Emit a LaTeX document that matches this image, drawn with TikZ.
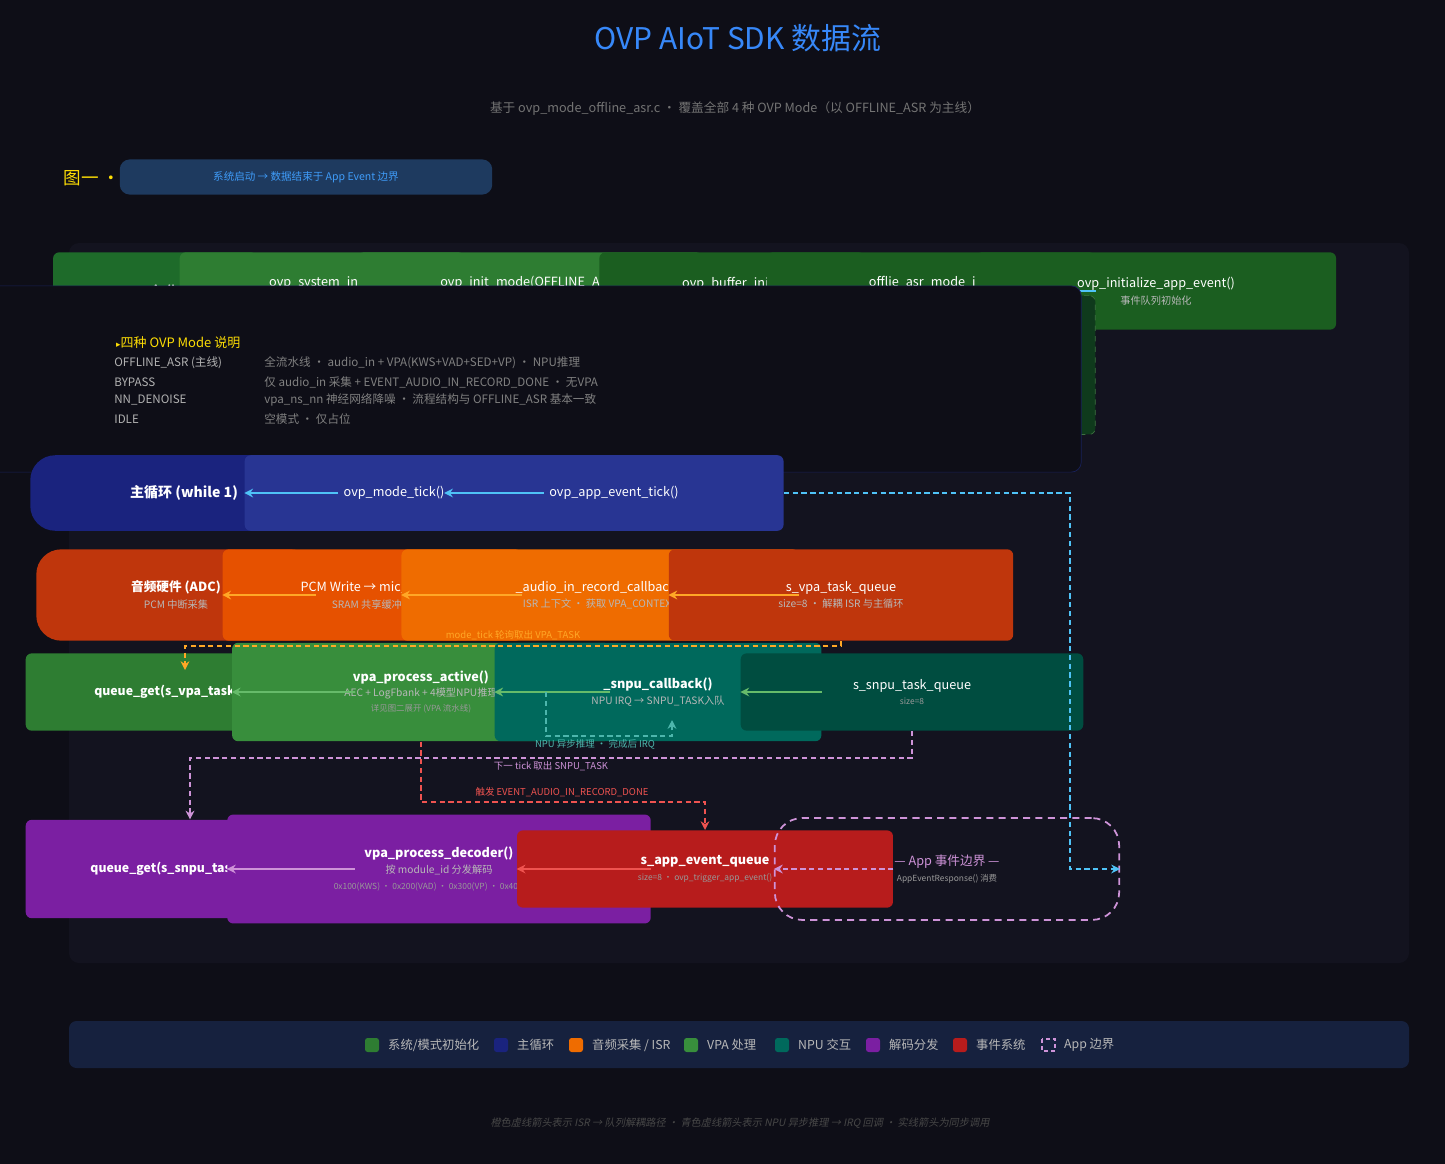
\documentclass[tikz,border=0pt]{standalone}
\usepackage{fontspec}
\setmainfont{Noto Sans CJK SC}
\newfontfamily\symfont{DejaVu Sans}
\newfontfamily\slfont[FakeSlant=0.2]{Noto Sans CJK SC}
\usetikzlibrary{positioning,arrows.meta}

\definecolor{bgc}{HTML}{0E0E17}
\definecolor{panelc}{HTML}{13131F}
\definecolor{gmain}{HTML}{1E6B2A}
\definecolor{gsys}{HTML}{2E7D32}
\definecolor{gdark}{HTML}{1B5E20}
\definecolor{gbox}{HTML}{0F3A1C}
\definecolor{bloop}{HTML}{1A237E}
\definecolor{btick}{HTML}{283593}
\definecolor{ohw}{HTML}{BF360C}
\definecolor{opcm}{HTML}{E65100}
\definecolor{oisr}{HTML}{EF6C00}
\definecolor{vgreen}{HTML}{388E3C}
\definecolor{vgreendk}{HTML}{2E7D32}
\definecolor{tnpu}{HTML}{00695C}
\definecolor{tq}{HTML}{004D40}
\definecolor{pdec}{HTML}{7B1FA2}
\definecolor{revt}{HTML}{B71C1C}
\definecolor{cyanl}{HTML}{4FC3F7}
\definecolor{orl}{HTML}{FFA726}
\definecolor{grl}{HTML}{66BB6A}
\definecolor{pul}{HTML}{CE93D8}
\definecolor{rdl}{HTML}{EF5350}
\definecolor{tel}{HTML}{4DB6AC}
\definecolor{legbg}{HTML}{16213E}
\definecolor{badgebg}{HTML}{1E3A5F}

\newcommand{\sub}[1]{{\fontsize{5.8}{7}\selectfont\color{white!72!black}#1}}
\newcommand{\subsm}[1]{{\fontsize{4.8}{6}\selectfont\color{white!60!black}#1}}

\tikzset{
  box/.style={rounded corners=0.12cm, inner sep=0pt, align=center, text=white,
    font=\fontsize{7.2}{9.5}\selectfont},
  pill/.style={box, rounded corners=0.5cm},
  flow/.style={-{Stealth[length=5pt,width=5pt]}, line width=1.1pt},
  dflow/.style={-{Stealth[length=5pt,width=5pt]}, line width=0.8pt, dash pattern=on 3pt off 2pt},
  lbl/.style={font=\fontsize{5.4}{6}\selectfont},
}

\begin{document}
\begin{tikzpicture}[x=0.02cm,y=-0.02cm]
        \fill [bgc] (0,0) rectangle (1445,1164);
        \useasboundingbox (0,0) rectangle (1445,1164);
        \fill [panelc,rounded corners=0.2cm] (69,243) rectangle (1409,963);

        % titles
        \node [text=cyanl!70!blue,font=\fontsize{17}{20}\selectfont] at (738,38) (title){OVP AIoT SDK 数据流};
        \node [text=white!45!black,font=\fontsize{7.2}{9}\selectfont] at (735,109) (subtitle){基于 ovp\_mode\_offline\_asr.c · 覆盖全部 4 种 OVP Mode（以 OFFLINE\_ASR 为主线）};
        \node [text=yellow!80!orange,font=\fontsize{10}{12}\selectfont] at (129,178) (fig){图一 · 宏观总览};
        \node [fill=badgebg,text=cyanl!80!blue,rounded corners=0.2cm,minimum width=212,minimum height=20,inner sep=0pt,font=\fontsize{6}{7}\selectfont] at (306,177) (badge){系统启动 → 数据结束于 App Event 边界};

        % row 1: init
        \node [box,fill=gmain,minimum width=116,minimum height=44,font=\bfseries\fontsize{7.2}{9}\selectfont] at (155,291) (main){main()};
        \node [box,fill=gsys,minimum width=162,minimum height=44] at (322,291) (sysinit){ovp\_system\_init()\\\sub{板级/时钟/UART/堆/看门狗}};
        \node [box,fill=gsys,minimum width=196,minimum height=44] at (530,291) (initmode){ovp\_init\_mode(OFFLINE\_ASR)\\\sub{→ buffer\_init → mode.init()}};
        \node [box,fill=gdark,minimum width=151,minimum height=44] at (732,291) (bufinit){ovp\_buffer\_init()\\\sub{SRAM音频缓冲区分配}};
        \node [box,fill=gdark,minimum width=187,minimum height=44] at (931,291) (asrinit){\_offlie\_asr\_mode\_init()\\\subsm{queue + vpa + audio init}};
        \node [box,fill=gdark,minimum width=205,minimum height=44] at (1156,291) (appinit){ovp\_initialize\_app\_event()\\\sub{事件队列初始化}};
        \node [box,fill=gbox,draw=grl!60!black,dashed,minimum width=187,minimum height=79,text=grl!80!white,font=\fontsize{6}{8.6}\selectfont] at (931,365) (asrsteps){queue\_init (×2)\\vpa\_init( snpu\_cb )\\audio\_input\_init( rec\_cb )\\audio\_input\_start()};

        \draw [flow,cyanl] (main) -- (sysinit);
        \draw [flow,cyanl] (sysinit) -- (initmode);
        \draw [flow,cyanl] (initmode) -- (bufinit);
        \draw [flow,cyanl] (bufinit) -- (asrinit);
        \draw [flow,cyanl] (asrinit) -- (appinit);

        % mode notes
        \node [draw=btick!60!black,fill=bgc,rounded corners=0.2cm,minimum width=714,minimum height=106,inner sep=0pt] at (454,379) (modes){};
        \node [anchor=west,text=yellow!80!orange,font=\fontsize{7.4}{9}\selectfont] at (110,343) (modehead){{\symfont\fontsize{5}{6}\selectfont ▸}四种 OVP Mode 说明};
        \foreach \y/\m/\d in {363/{OFFLINE\_ASR (主线)}/{全流水线 · audio\_in + VPA(KWS+VAD+SED+VP) · NPU推理},
                             382/BYPASS/{仅 audio\_in 采集 + EVENT\_AUDIO\_IN\_RECORD\_DONE · 无VPA},
                             400/NN\_DENOISE/{vpa\_ns\_nn 神经网络降噪 · 流程结构与 OFFLINE\_ASR 基本一致},
                             419/IDLE/{空模式 · 仅占位}} {
          \node [anchor=west,text=white!70!black,font=\fontsize{6.6}{8}\selectfont,inner sep=0pt] at (114,\y) {\m};
          \node [anchor=west,text=white!50!black,font=\fontsize{6.6}{8}\selectfont,inner sep=0pt] at (264,\y) {\d};
        }

        % row 2: main loop
        \node [pill,fill=bloop,minimum width=175,minimum height=43,font=\bfseries\fontsize{8}{9}\selectfont] at (184,493) (loop){主循环 (while 1)};
        \node [box,fill=btick,minimum width=170,minimum height=43] at (394,493) (modetick){ovp\_mode\_tick()};
        \node [box,fill=btick,minimum width=193,minimum height=43] at (614,493) (apptick){ovp\_app\_event\_tick()};
        \draw [flow,cyanl] (loop) -- (modetick);
        \draw [flow,cyanl] (modetick) -- (apptick);

        % row 3: audio capture
        \node [pill,fill=ohw,minimum width=159,minimum height=52] at (176,595) (adc){\textbf{音频硬件 (ADC)}\\\sub{PCM 中断采集}};
        \node [box,fill=opcm,minimum width=170,minimum height=52] at (372,595) (pcm){PCM Write → mic\_buffer\\\sub{SRAM 共享缓冲区}};
        \node [box,fill=oisr,minimum width=226,minimum height=52] at (600,595) (isr){\_audio\_in\_record\_callback()\\\sub{ISR 上下文 · 获取 VPA\_CONTEXT}};
        \node [box,fill=ohw,minimum width=196,minimum height=52] at (841,595) (vpaq){s\_vpa\_task\_queue\\\sub{size=8 · 解耦 ISR 与主循环}};
        \draw [flow,orl] (adc) -- (pcm);
        \draw [flow,orl] (pcm) -- (isr);
        \draw [flow,orl] (isr) -- (vpaq);

        % row 4: VPA / NPU
        \node [box,fill=vgreendk,minimum width=187,minimum height=44,font=\bfseries\fontsize{7}{9}\selectfont] at (190,692) (getvpa){queue\_get(s\_vpa\_task\_queue)};
        \node [box,fill=vgreen,minimum width=215,minimum height=56,font=\fontsize{7.2}{8.6}\selectfont] at (421,692) (vpaact){\textbf{vpa\_process\_active()}\\\sub{AEC + LogFbank + 4模型NPU推理}\\\subsm{详见图二展开 (VPA 流水线)}};
        \node [box,fill=tnpu,minimum width=186,minimum height=56] at (658,692) (snpucb){\textbf{\_snpu\_callback()}\\\sub{NPU IRQ → SNPU\_TASK入队}};
        \node [box,fill=tq,minimum width=195,minimum height=44,font=\fontsize{7.2}{8}\selectfont] at (912,692) (snpuq){s\_snpu\_task\_queue\\\subsm{size=8}};
        \draw [flow,grl] (getvpa) -- (vpaact);
        \draw [flow,grl] (vpaact) -- (snpucb);
        \draw [flow,grl] (snpucb) -- (snpuq);

        % row 5: decode / events
        \node [box,fill=pdec,minimum width=187,minimum height=56,font=\bfseries\fontsize{7}{9}\selectfont] at (190,869) (getsnpu){queue\_get(s\_snpu\_task\_queue)};
        \node [box,fill=pdec,minimum width=241,minimum height=62,font=\fontsize{7.2}{9}\selectfont] at (439,869) (decoder){\textbf{vpa\_process\_decoder()}\\\sub{按 module\_id 分发解码}\\\subsm{0x100(KWS) · 0x200(VAD) · 0x300(VP) · 0x400(SED)}};
        \node [box,fill=revt,minimum width=214,minimum height=44,font=\fontsize{7.2}{8.6}\selectfont] at (705,869) (appq){\textbf{s\_app\_event\_queue}\\\subsm{size=8 · ovp\_trigger\_app\_event()}};
        \node [pill,draw=pul,line width=1pt,dash pattern=on 4pt off 3pt,rounded corners=0.55cm,minimum width=196,minimum height=58,text=pul,font=\fontsize{7.2}{9}\selectfont] at (947,869) (appedge){--- App 事件边界 ---\\\subsm{AppEventResponse() 消费}};
        \draw [flow,pul] (getsnpu) -- (decoder);
        \draw [flow,rdl] (decoder) -- (appq);
        \draw [dflow,pul] (appq) -- (appedge);

        % async / queue paths
        \coordinate (ticke) at (1070,493);
        \draw [dflow,cyanl] (apptick) -- (ticke) |- (appedge);
        \coordinate (vpain) at (185,670);
        \draw [dflow,orl] (vpaq.south) |- (185,646) -- (vpain);
        \node [lbl,text=orl] at (513,635) (lblvpa){mode\_tick 轮询取出 VPA\_TASK};
        \coordinate (npuout) at (546,692);
        \coordinate (npuirq) at (672,720);
        \draw [dflow,tel] (npuout) |- (672,736) -- (npuirq);
        \node [lbl,text=tel] at (595,744) (lblnpu){NPU 异步推理 · 完成后 IRQ};
        \draw [dflow,pul] (snpuq.south) |- (190,758) -- (getsnpu.north);
        \node [lbl,text=pul] at (551,766) (lblsnpu){下一 tick 取出 SNPU\_TASK};
        \draw [dflow,rdl] (vpaact.south) |- (705,802) -- (appq.north);
        \node [lbl,text=rdl] at (562,792) (lblevt){触发 EVENT\_AUDIO\_IN\_RECORD\_DONE};

        % legend
        \fill [legbg,rounded corners=0.15cm] (69,1021) rectangle (1409,1068);
        \foreach \x/\c/\t in {372/gsys/{系统/模式初始化}, 501/bloop/主循环, 576/oisr/{音频采集 / ISR}, 691/vgreen/VPA 处理, 782/tnpu/NPU 交互, 873/pdec/解码分发, 960/revt/事件系统} {
          \fill [\c,rounded corners=1.5pt] (\x-7,1038) rectangle (\x+7,1052);
          \node [anchor=west,text=white!72!black,font=\fontsize{7}{8}\selectfont] at (\x+10,1045) {\t};
        }
        \draw [pul,dash pattern=on 2pt off 2pt,line width=0.8pt] (1042,1039) rectangle (1055,1051);
        \node [anchor=west,text=white!72!black,font=\fontsize{7}{8}\selectfont] at (1058,1045) (legapp){App 边界};

        \node [text=white!28!black,font=\slfont\fontsize{5.8}{7}\selectfont] at (740,1123) (foot){橙色虚线箭头表示 ISR → 队列解耦路径 · 青色虚线箭头表示 NPU 异步推理 → IRQ 回调 · 实线箭头为同步调用};
      \end{tikzpicture}
\end{document}
